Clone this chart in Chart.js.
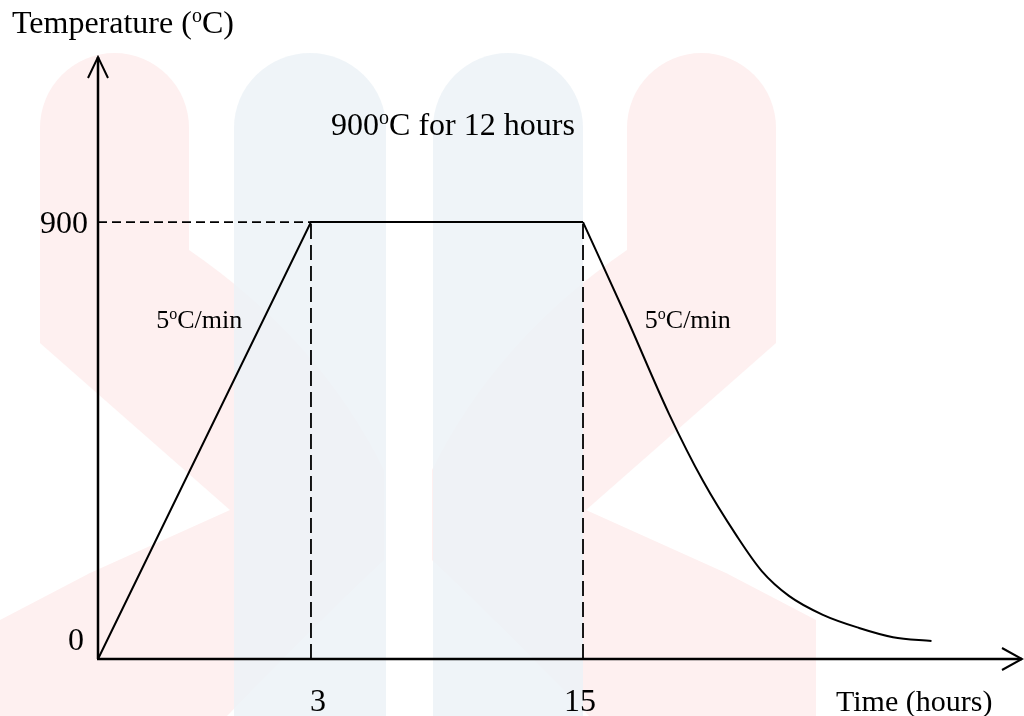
<!DOCTYPE html>
<html>
<head>
<meta charset="utf-8">
<script src="https://cdn.jsdelivr.net/npm/chart.js@4.4.0/dist/chart.umd.min.js"></script>
<style>
  html, body { margin: 0; padding: 0; background: #fff; }
  canvas { display: block; }
</style>
</head>
<body>
<canvas id="canvas" width="1024" height="716"></canvas>
<script>
// heating schedule
const rampHours = [0, 3, 15];
const rampTemps = [0, 900, 900];
const coolHours = [15, 16.9, 18.8, 20.3, 21.8, 22.9, 24.1, 25.6, 27.2, 28.7, 30.4];
const coolTemps = [900, 706, 505, 367, 253, 181, 130, 91, 64, 45, 37];
const holdTemp = 900;
const xTicks = [3, 15];
const yTicks = [0, 900];

const serif = '"Liberation Serif", "Times New Roman", serif';

// the time axis is a sketch: ramp, hold and cooling each get their own stretch
const knotHours = [0, 3, 15, 34.4];
const knotFracs = [0, 0.2305, 0.5249, 1];

function hourToFrac(v) {
  for (let i = 1; i < knotHours.length; i++) {
    if (v <= knotHours[i] || i == knotHours.length - 1) {
      const t = (v - knotHours[i - 1]) / (knotHours[i] - knotHours[i - 1]);
      return knotFracs[i - 1] + t * (knotFracs[i] - knotFracs[i - 1]);
    }
  }
  return 0;
}
function fracToHour(f) {
  for (let i = 1; i < knotFracs.length; i++) {
    if (f <= knotFracs[i] || i == knotFracs.length - 1) {
      const t = (f - knotFracs[i - 1]) / (knotFracs[i] - knotFracs[i - 1]);
      return knotHours[i - 1] + t * (knotHours[i] - knotHours[i - 1]);
    }
  }
  return 0;
}

class BrokenScale extends Chart.LinearScale {
  getPixelForValue(value) {
    return this.getPixelForDecimal(hourToFrac(value));
  }
  getValueForPixel(pixel) {
    return fracToHour(this.getDecimalForPixel(pixel));
  }
}
BrokenScale.id = 'broken';
Chart.register(BrokenScale);

function pts(xs, ys) {
  return xs.map((x, i) => ({x: x, y: ys[i]}));
}

// text with "^o" meaning a raised small o
function drawRich(ctx, str, x, y, size, align) {
  const parts = [];
  let i = 0, buf = '';
  while (i < str.length) {
    if (str[i] == '^') {
      if (buf) parts.push({t: buf, sup: false});
      buf = '';
      parts.push({t: str[i + 1], sup: true});
      i += 2;
    } else {
      buf += str[i];
      i++;
    }
  }
  if (buf) parts.push({t: buf, sup: false});
  const supSize = Math.round(size * 0.62);
  let w = 0;
  for (const p of parts) {
    ctx.font = (p.sup ? supSize : size) + 'px ' + serif;
    p.w = ctx.measureText(p.t).width;
    w += p.w;
  }
  let cx = x;
  if (align == 'center') cx = x - w / 2;
  if (align == 'right') cx = x - w;
  ctx.textAlign = 'left';
  ctx.textBaseline = 'alphabetic';
  ctx.fillStyle = '#000';
  for (const p of parts) {
    ctx.font = (p.sup ? supSize : size) + 'px ' + serif;
    ctx.fillText(p.t, cx, p.sup ? y - size * 0.33 : y);
    cx += p.w;
  }
}

function pillar(ctx, x0, x1, top, bottom) {
  const rx = (x1 - x0) / 2, ry = 75;
  ctx.beginPath();
  ctx.moveTo(x0, bottom);
  ctx.lineTo(x0, top + ry);
  ctx.ellipse(x0 + rx, top + ry, rx, ry, 0, Math.PI, 2 * Math.PI);
  ctx.lineTo(x1, bottom);
  ctx.closePath();
  ctx.fill();
}

// one half of the watermark: a domed column bending into a chevron
function chevron(ctx) {
  ctx.beginPath();
  ctx.moveTo(40, 343);
  ctx.lineTo(40, 128);
  ctx.ellipse(114.5, 128, 74.5, 75, 0, Math.PI, 2 * Math.PI);
  ctx.lineTo(189, 250);
  ctx.quadraticCurveTo(320, 340, 384, 470);
  ctx.lineTo(384, 560);
  ctx.quadraticCurveTo(320, 620, 227, 716);
  ctx.lineTo(0, 716);
  ctx.lineTo(0, 620);
  ctx.lineTo(90, 573);
  ctx.lineTo(230, 510);
  ctx.lineTo(90, 387);
  ctx.closePath();
  ctx.fill();
}

const decor = {
  id: 'decor',
  beforeDraw(chart) {
    const ctx = chart.ctx;
    ctx.save();
    ctx.fillStyle = '#fff';
    ctx.fillRect(0, 0, chart.width, chart.height);
    // faint watermark behind the plot
    ctx.fillStyle = '#fef0f0';
    chevron(ctx);
    ctx.translate(816, 0);
    ctx.scale(-1, 1);
    chevron(ctx);
    ctx.setTransform(1, 0, 0, 1, 0, 0);
    ctx.globalAlpha = 0.85;
    ctx.fillStyle = '#ecf2f7';
    pillar(ctx, 234, 386, 53, 716);
    pillar(ctx, 433, 583, 53, 716);
    ctx.restore();
  },
  afterDraw(chart) {
    const ctx = chart.ctx;
    const a = chart.chartArea;
    const xs = chart.scales.x, ys = chart.scales.y;
    const x0 = xs.getPixelForValue(0), y0 = ys.getPixelForValue(0);
    ctx.save();
    ctx.strokeStyle = '#000';
    ctx.lineWidth = 2.5;
    ctx.lineCap = 'butt';
    ctx.beginPath();
    ctx.moveTo(x0, y0);
    ctx.lineTo(x0, a.top);
    ctx.moveTo(x0 - 1, y0);
    ctx.lineTo(a.right, y0);
    ctx.stroke();
    ctx.lineWidth = 2;
    ctx.beginPath();
    ctx.moveTo(x0 - 10, a.top + 21);
    ctx.lineTo(x0, a.top);
    ctx.lineTo(x0 + 10, a.top + 21);
    ctx.moveTo(a.right - 20, y0 - 11);
    ctx.lineTo(a.right, y0);
    ctx.lineTo(a.right - 20, y0 + 11);
    ctx.stroke();

    for (const v of yTicks) {
      if (v == 0) {
        drawRich(ctx, '0', x0 - 14, y0 - 9, 32, 'right');
      } else {
        drawRich(ctx, String(v), x0 - 10, ys.getPixelForValue(v) + 11, 32, 'right');
      }
    }
    for (const v of xTicks) {
      const nudge = v == 3 ? 7 : -3;
      drawRich(ctx, String(v), xs.getPixelForValue(v) + nudge, 711, 32, 'center');
    }
    drawRich(ctx, 'Temperature (^oC)', 12, 33, 32, 'left');
    drawRich(ctx, 'Time (hours)', 836, 711, 30, 'left');

    drawRich(ctx, holdTemp + '^oC for 12 hours',
      (xs.getPixelForValue(3) + xs.getPixelForValue(15)) / 2 + 6, ys.getPixelForValue(1080), 32, 'center');
    drawRich(ctx, '5^oC/min', xs.getPixelForValue(0.82), ys.getPixelForValue(682), 26, 'left');
    drawRich(ctx, '5^oC/min', xs.getPixelForValue(17.73), ys.getPixelForValue(682), 26, 'left');
    ctx.restore();
  }
};

const solid = {borderColor: '#000', borderWidth: 2, pointRadius: 0, fill: false, clip: false};

new Chart(document.getElementById('canvas'), {
  type: 'line',
  data: {
    datasets: [
      Object.assign({label: 'ramp and hold', data: pts(rampHours, rampTemps), tension: 0}, solid),
      Object.assign({label: 'cooling', data: pts(coolHours, coolTemps), cubicInterpolationMode: 'monotone'}, solid),
      Object.assign({label: 'hold level', data: pts([0, rampHours[1]], [holdTemp, holdTemp]), borderDash: [9, 5]}, solid, {borderWidth: 1.8}),
      Object.assign({label: 'start of hold', data: pts([rampHours[1], rampHours[1]], [0, holdTemp]), borderDash: [15, 6]}, solid, {borderWidth: 1.8}),
      Object.assign({label: 'end of hold', data: pts([rampHours[2], rampHours[2]], [0, holdTemp]), borderDash: [15, 6]}, solid, {borderWidth: 1.8})
    ]
  },
  options: {
    responsive: false,
    animation: false,
    devicePixelRatio: 1,
    layout: {padding: {left: 98, right: 2, top: 57, bottom: 57}},
    plugins: {legend: {display: false}, tooltip: {enabled: false}, title: {display: false}},
    scales: {
      x: {type: 'broken', min: 0, max: 34.4, display: false},
      y: {type: 'linear', min: 0, max: 1240, display: false}
    }
  },
  plugins: [decor]
});
</script>
</body>
</html>
